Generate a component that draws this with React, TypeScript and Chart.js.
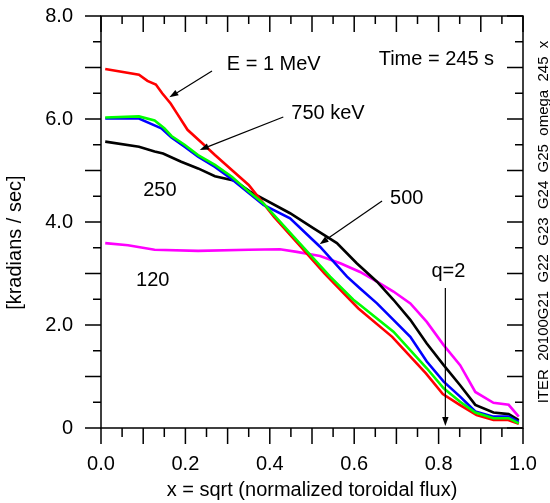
import React, { useEffect, useRef } from 'react';
import { Chart, registerables } from 'chart.js';

Chart.register(...registerables);

const FONT = '"Liberation Sans", Arial, Helvetica, sans-serif';

// ---- data (x = sqrt normalized toroidal flux, value = kradians/sec) ----
const redX = [0.01, 0.09, 0.11, 0.13, 0.145, 0.165, 0.18, 0.205, 0.24, 0.27, 0.31, 0.35, 0.41, 0.47, 0.53, 0.59, 0.61, 0.69, 0.77, 0.81, 0.85, 0.89, 0.93, 0.965, 0.99];
const redY = [6.97, 6.86, 6.74, 6.67, 6.5, 6.3, 6.11, 5.79, 5.53, 5.3, 5.01, 4.72, 4.1, 3.55, 3.0, 2.49, 2.32, 1.77, 1.06, 0.66, 0.45, 0.25, 0.155, 0.155, 0.08];

const greenX = [0.01, 0.09, 0.127, 0.15, 0.167, 0.198, 0.23, 0.27, 0.31, 0.35, 0.385, 0.464, 0.543, 0.598, 0.614, 0.693, 0.772, 0.812, 0.851, 0.887, 0.93, 0.966, 0.99];
const greenY = [6.03, 6.05, 5.97, 5.82, 5.67, 5.5, 5.3, 5.11, 4.88, 4.59, 4.36, 3.65, 2.94, 2.49, 2.39, 1.87, 1.16, 0.77, 0.51, 0.3, 0.19, 0.19, 0.09];

const blueX = [0.01, 0.09, 0.12, 0.143, 0.167, 0.198, 0.23, 0.27, 0.31, 0.385, 0.448, 0.519, 0.583, 0.614, 0.654, 0.693, 0.733, 0.772, 0.812, 0.851, 0.887, 0.93, 0.966, 0.99];
const blueY = [6.01, 6.01, 5.9, 5.82, 5.64, 5.46, 5.27, 5.07, 4.83, 4.33, 4.07, 3.52, 2.94, 2.71, 2.42, 2.1, 1.77, 1.29, 0.9, 0.61, 0.32, 0.22, 0.22, 0.12];

const blackX = [0.01, 0.09, 0.127, 0.147, 0.19, 0.23, 0.27, 0.317, 0.353, 0.448, 0.503, 0.559, 0.606, 0.654, 0.693, 0.733, 0.772, 0.812, 0.851, 0.887, 0.93, 0.966, 0.99];
const blackY = [5.56, 5.46, 5.37, 5.33, 5.17, 5.04, 4.89, 4.8, 4.59, 4.17, 3.88, 3.59, 3.2, 2.84, 2.49, 2.1, 1.64, 1.22, 0.83, 0.45, 0.3, 0.27, 0.155];

const magentaX = [0.01, 0.064, 0.127, 0.23, 0.35, 0.424, 0.464, 0.519, 0.567, 0.614, 0.654, 0.693, 0.733, 0.772, 0.812, 0.851, 0.887, 0.93, 0.966, 0.99];
const magentaY = [3.59, 3.55, 3.46, 3.44, 3.46, 3.47, 3.42, 3.34, 3.2, 3.03, 2.84, 2.65, 2.42, 2.06, 1.61, 1.22, 0.7, 0.49, 0.45, 0.22];

// ---- axis ticks ----
const xMin = 0, xMax = 1, xLabelStep = 0.2, xMajorStep = 0.1, xMinorStep = 0.05;
const yMin = 0, yMax = 8, yLabelStep = 2, yMajorStep = 1, yMinorStep = 0.5;

// ---- annotations (data coordinates) ----
const noteTexts = ['E = 1 MeV', '750 keV', 'Time = 245 s', '250', '120', '500', 'q=2'];
const noteX = [0.298, 0.451, 0.658, 0.1, 0.083, 0.685, 0.783];
const noteY = [7.05, 6.11, 7.15, 4.62, 2.87, 4.45, 3.03];

const arrowFromX = [0.263, 0.432, 0.666, 0.816];
const arrowFromY = [6.93, 6.04, 4.41, 2.72];
const arrowToX = [0.162, 0.234, 0.518, 0.816];
const arrowToY = [6.42, 5.4, 3.57, 0.04];

const xTitle = 'x = sqrt (normalized toroidal flux)';
const yTitle = '[kradians / sec]';
const sideText = 'ITER  20100G21  G22  G23  G24  G25  omega  245  x';

const toPts = (xs: number[], ys: number[]) => xs.map((x, i) => ({ x, y: ys[i] }));

const overlayPlugin = {
  id: 'overlay',
  afterDatasetsDraw(chart: any) {
    const { ctx, chartArea: a, scales } = chart;
    const sx = scales.x;
    const sy = scales.y;
    ctx.save();
    ctx.strokeStyle = '#000';
    ctx.fillStyle = '#000';
    ctx.lineWidth = 1.5;
    // frame
    ctx.beginPath();
    ctx.rect(a.left, a.top, a.right - a.left, a.bottom - a.top);
    ctx.stroke();
    // x ticks
    const nx = Math.round((xMax - xMin) / xMinorStep);
    ctx.beginPath();
    for (let i = 0; i <= nx; i++) {
      const v = xMin + i * xMinorStep;
      const major = Math.abs(v / xMajorStep - Math.round(v / xMajorStep)) < 1e-6;
      const px = sx.getPixelForValue(v);
      ctx.moveTo(px, a.bottom);
      ctx.lineTo(px, a.bottom + (major ? 16 : 9));
      ctx.moveTo(px, a.top);
      ctx.lineTo(px, a.top + (major ? 16 : 8));
    }
    const ny = Math.round((yMax - yMin) / yMinorStep);
    for (let i = 0; i <= ny; i++) {
      const v = yMin + i * yMinorStep;
      const major = Math.abs(v / yMajorStep - Math.round(v / yMajorStep)) < 1e-6;
      const py = sy.getPixelForValue(v);
      ctx.moveTo(a.left - (major ? 16 : 8), py);
      ctx.lineTo(a.left, py);
      ctx.moveTo(a.right, py);
      ctx.lineTo(a.right - (major ? 16 : 8), py);
    }
    ctx.stroke();

    // annotation texts
    ctx.font = `20px ${FONT}`;
    ctx.textAlign = 'left';
    ctx.textBaseline = 'middle';
    noteTexts.forEach((t, i) => {
      ctx.fillText(t, sx.getPixelForValue(noteX[i]), sy.getPixelForValue(noteY[i]));
    });

    // arrows
    ctx.lineWidth = 1.2;
    arrowFromX.forEach((_, i) => {
      const x1 = sx.getPixelForValue(arrowFromX[i]);
      const y1 = sy.getPixelForValue(arrowFromY[i]);
      const x2 = sx.getPixelForValue(arrowToX[i]);
      const y2 = sy.getPixelForValue(arrowToY[i]);
      const ang = Math.atan2(y2 - y1, x2 - x1);
      const L = 9, W = 3.2;
      const bx = x2 - L * Math.cos(ang);
      const by = y2 - L * Math.sin(ang);
      ctx.beginPath();
      ctx.moveTo(x1, y1);
      ctx.lineTo(bx, by);
      ctx.stroke();
      ctx.beginPath();
      ctx.moveTo(x2, y2);
      ctx.lineTo(bx + W * Math.sin(ang), by - W * Math.cos(ang));
      ctx.lineTo(bx - W * Math.sin(ang), by + W * Math.cos(ang));
      ctx.closePath();
      ctx.fill();
    });

    // y title
    ctx.save();
    ctx.translate(15, sy.getPixelForValue(3.6));
    ctx.rotate(-Math.PI / 2);
    ctx.textAlign = 'center';
    ctx.textBaseline = 'middle';
    ctx.font = `20px ${FONT}`;
    ctx.fillText(yTitle, 0, 0);
    ctx.restore();

    // side text
    ctx.save();
    ctx.translate(a.right + 21, (a.top + a.bottom) / 2);
    ctx.rotate(-Math.PI / 2);
    ctx.textAlign = 'center';
    ctx.textBaseline = 'middle';
    ctx.font = `15px ${FONT}`;
    ctx.fillText(sideText, 0, 0);
    ctx.restore();

    ctx.restore();
  },
};

const zeroPad = (s: any) => {
  s.paddingTop = 0;
  s.paddingBottom = 0;
  s.paddingLeft = 0;
  s.paddingRight = 0;
};

export default function App() {
  const ref = useRef<HTMLCanvasElement | null>(null);
  useEffect(() => {
    document.body.style.margin = '0';
    const canvas = ref.current;
    if (!canvas) return;
    const mk = (label: string, xs: number[], ys: number[], color: string, order: number) => ({
      label,
      data: toPts(xs, ys),
      borderColor: color,
      backgroundColor: color,
      borderWidth: 2.6,
      pointRadius: 0,
      fill: false,
      tension: 0,
      order,
    });
    const chart = new Chart(canvas, {
      type: 'line',
      data: {
        datasets: [
          mk('120', magentaX, magentaY, '#ff00ff', 5),
          mk('250', blackX, blackY, '#000000', 4),
          mk('E = 1 MeV', redX, redY, '#ff0000', 3),
          mk('500', blueX, blueY, '#0000ff', 2),
          mk('750 keV', greenX, greenY, '#00ff00', 1),
        ],
      },
      options: {
        responsive: false,
        animation: false,
        devicePixelRatio: 1,
        layout: { padding: { left: 0, top: 16, right: 27, bottom: 0 } },
        plugins: { legend: { display: false }, tooltip: { enabled: false } },
        scales: {
          x: {
            type: 'linear',
            min: xMin,
            max: xMax,
            border: { display: false },
            grid: { display: false, drawTicks: false },
            ticks: {
              stepSize: xLabelStep,
              autoSkip: false,
              maxRotation: 0,
              padding: 24,
              color: '#000',
              font: { family: FONT, size: 20 },
              callback: (v: any) => Number(v).toFixed(1),
            },
            title: {
              display: true,
              text: xTitle,
              color: '#000',
              font: { family: FONT, size: 20 },
              padding: { top: 0, bottom: 1 },
            },
            afterFit: (s: any) => { s.height = 75; zeroPad(s); },
          },
          y: {
            type: 'linear',
            min: yMin,
            max: yMax,
            border: { display: false },
            grid: { display: false, drawTicks: false },
            ticks: {
              stepSize: yLabelStep,
              padding: 28,
              color: '#000',
              font: { family: FONT, size: 20 },
              callback: (v: any) => (Number(v) === 0 ? '0' : Number(v).toFixed(1)),
            },
            afterFit: (s: any) => { s.width = 101; zeroPad(s); },
          },
        },
      },
      plugins: [overlayPlugin],
    });
    return () => chart.destroy();
  }, []);
  return (
    <div style={{ width: 550, height: 503 }}>
      <canvas ref={ref} width={550} height={503} style={{ display: 'block' }} />
    </div>
  );
}
